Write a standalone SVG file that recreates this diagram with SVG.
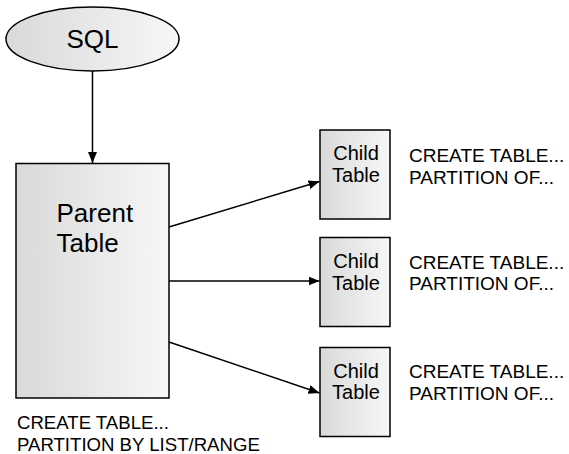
<svg xmlns="http://www.w3.org/2000/svg" width="569" height="454" viewBox="0 0 569 454">
<defs>
<linearGradient id="g" x1="0" y1="0" x2="1" y2="0">
<stop offset="0" stop-color="#d9d9d9"/>
<stop offset="1" stop-color="#f7f7f7"/>
</linearGradient>
<marker id="ah" markerWidth="11" markerHeight="9" refX="11" refY="4.5" orient="auto" markerUnits="userSpaceOnUse">
<path d="M0,0 L11,4.5 L0,9 Z" fill="#000"/>
</marker>
<style>
.shape{fill:url(#g);stroke:#000;stroke-width:1.5}
.t{font-family:"Liberation Sans",Arial,sans-serif;fill:#000}
.big{font-size:26px}
.child{font-size:20px;text-anchor:middle}
.lab{font-size:19px}
.conn{stroke:#000;stroke-width:1.5;fill:none;marker-end:url(#ah)}
</style>
</defs>
<g id="sql">
<ellipse class="shape" cx="92.5" cy="39" rx="86.5" ry="32"/>
<text class="t big" x="92.5" y="48" text-anchor="middle">SQL</text>
</g>
<g id="parent">
<rect class="shape" x="16" y="163.5" width="153" height="234.5"/>
<text class="t big" x="56.5" y="222">Parent</text>
<text class="t big" x="56.5" y="251.5">Table</text>
<text class="t lab" x="17" y="429" style="font-size:18.6px">CREATE TABLE...</text>
<text class="t lab" x="17" y="450.5" style="font-size:18.6px">PARTITION BY LIST/RANGE</text>
</g>
<g id="child1">
<rect class="shape" x="320" y="130" width="70" height="89"/>
<text class="t child" x="356" y="160">Child</text>
<text class="t child" x="356" y="181.5">Table</text>
<text class="t lab" x="409" y="161.5">CREATE TABLE...</text>
<text class="t lab" x="409" y="183.5">PARTITION OF...</text>
</g>
<g id="child2">
<rect class="shape" x="320" y="237.5" width="70" height="89"/>
<text class="t child" x="356" y="268">Child</text>
<text class="t child" x="356" y="289.5">Table</text>
<text class="t lab" x="409" y="268.5">CREATE TABLE...</text>
<text class="t lab" x="409" y="290">PARTITION OF...</text>
</g>
<g id="child3">
<rect class="shape" x="320" y="347.5" width="70" height="89"/>
<text class="t child" x="356" y="377.5">Child</text>
<text class="t child" x="356" y="399">Table</text>
<text class="t lab" x="409" y="378">CREATE TABLE...</text>
<text class="t lab" x="409" y="399.5">PARTITION OF...</text>
</g>
<g id="connectors">
<line class="conn" x1="92.5" y1="71" x2="92.5" y2="163"/>
<line class="conn" x1="169" y1="227" x2="319.5" y2="181.5"/>
<line class="conn" x1="169" y1="281" x2="319.5" y2="281"/>
<line class="conn" x1="169" y1="342" x2="319.5" y2="393"/>
</g>
</svg>
